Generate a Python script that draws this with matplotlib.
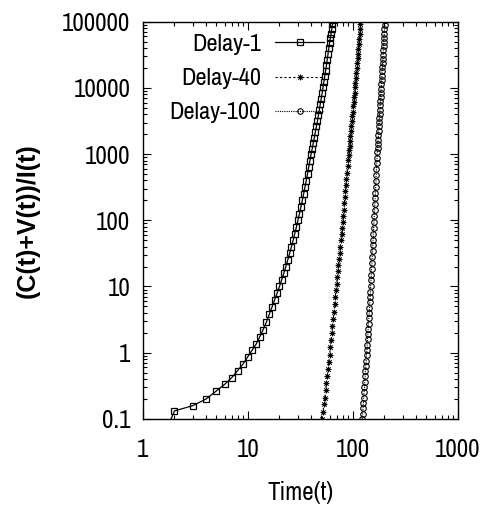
import numpy as np
import matplotlib
matplotlib.use("Agg")
from matplotlib import pyplot as plt
from matplotlib import font_manager as fm

t1 = list(range(1, 66))
logy1 = [-2.00,
         -0.88, -0.80, -0.70, -0.58, -0.48, -0.38, -0.27, -0.17, -0.06, 0.04,
         0.13, 0.24, 0.35, 0.46, 0.58, 0.69, 0.80, 0.90, 1.00, 1.10,
         1.20, 1.30, 1.40, 1.50, 1.60, 1.70, 1.80, 1.90, 2.00, 2.10,
         2.20, 2.30, 2.40, 2.50, 2.60, 2.70, 2.80, 2.90, 3.00, 3.08,
         3.17, 3.25, 3.34, 3.42, 3.50, 3.59, 3.67, 3.76, 3.84, 3.92,
         4.01, 4.09, 4.18, 4.26, 4.34, 4.43, 4.51, 4.60, 4.68, 4.75,
         4.82, 4.89, 4.96, 5.03]

# Delay-40 : t = 51..119
t40 = list(range(51, 120))
logy40 = [-1.00, -0.89, -0.78, -0.68, -0.57, -0.46, -0.35, -0.24, -0.14, -0.03,
          0.08, 0.19, 0.30, 0.40, 0.51, 0.62, 0.73, 0.84, 0.95, 1.04,
          1.14, 1.23, 1.32, 1.42, 1.51, 1.60, 1.70, 1.79, 1.88, 1.98,
          2.07, 2.16, 2.26, 2.35, 2.44, 2.54, 2.63, 2.72, 2.82, 2.91,
          2.98, 3.06, 3.13, 3.20, 3.28, 3.35, 3.42, 3.50, 3.57, 3.64,
          3.72, 3.79, 3.86, 3.93, 4.01, 4.08, 4.15, 4.23, 4.30, 4.37,
          4.45, 4.52, 4.59, 4.67, 4.74, 4.81, 4.89, 4.96, 5.03]

# Delay-100 : t = 123..202
t100 = list(range(123, 203))
logy100 = [-1.00, -0.92, -0.84, -0.76, -0.68, -0.60, -0.52, -0.44, -0.36, -0.28,
           -0.20, -0.12, -0.04, 0.04, 0.12, 0.20, 0.28, 0.36, 0.44, 0.52,
           0.60, 0.68, 0.76, 0.84, 0.92, 1.01, 1.10, 1.18, 1.27, 1.36,
           1.45, 1.54, 1.62, 1.71, 1.80, 1.89, 1.98, 2.06, 2.15, 2.24,
           2.33, 2.42, 2.50, 2.59, 2.68, 2.77, 2.86, 2.94, 3.03, 3.09,
           3.16, 3.22, 3.29, 3.35, 3.42, 3.48, 3.54, 3.61, 3.67, 3.74,
           3.80, 3.86, 3.93, 3.99, 4.06, 4.12, 4.18, 4.25, 4.31, 4.38,
           4.44, 4.50, 4.57, 4.63, 4.70, 4.76, 4.82, 4.89, 4.95, 5.02]

xticks = [1, 10, 100, 1000]
yticks = [0.1, 1, 10, 100, 1000, 10000, 100000]
yticklabels = ['0.1', '1', '10', '100', '1000', '10000', '100000']

# pick a narrow face if one is installed, otherwise Arial-like Liberation Sans
names = sorted({f.name for f in fm.fontManager.ttflist})
narrow = next((n for n in names if 'Narrow' in n or 'Condensed' in n),
              'Liberation Sans')
fs = 18 if narrow != 'Liberation Sans' else 15

fig = plt.figure(figsize=(4.86, 5.19), dpi=100)
ax = fig.add_axes([0.294, 0.193, 0.648, 0.765])

ax.plot(t1, 10 ** np.array(logy1), color='black', lw=0.9, ls='-',
        marker='s', mfc='none', mec='black', ms=4.5, mew=0.9, label='Delay-1')
ax.plot(t40, 10 ** np.array(logy40), color='black', lw=0.8, ls=(0, (2, 2)),
        marker=(8, 2, 0), ms=4, mew=0.6, mec='black', label='Delay-40')
ax.plot(t100, 10 ** np.array(logy100), color='black', lw=0.8, ls=(0, (1, 1)),
        marker='o', mfc='none', mec='black', ms=4, mew=0.8, label='Delay-100')

ax.set_xscale('log')
ax.set_yscale('log')
ax.set_xlim(1, 1000)
ax.set_ylim(0.1, 100000)
ax.set_xticks(xticks)
ax.set_xticklabels([str(v) for v in xticks])
ax.set_yticks(yticks)
ax.set_yticklabels(yticklabels)

ax.tick_params(which='both', direction='in', top=True, right=True, width=0.8)
ax.tick_params(which='major', length=6)
ax.tick_params(axis='y', which='major', pad=9)
ax.tick_params(axis='x', which='major', pad=14)
ax.tick_params(which='minor', length=3)
for lab in ax.get_xticklabels() + ax.get_yticklabels():
    lab.set_fontfamily(narrow)
    lab.set_fontsize(fs)
for s in ax.spines.values():
    s.set_linewidth(1.0)

ax.set_xlabel('Time(t)', fontfamily=narrow, fontsize=fs, labelpad=14)
ax.set_ylabel('(C(t)+V(t))/I(t)', fontfamily='Liberation Sans', fontweight='bold',
              fontsize=18, labelpad=16)

ax.legend(loc='upper right', bbox_to_anchor=(0.575, 0.97), frameon=False,
          markerfirst=False, prop={'family': narrow, 'size': 17.5},
          handlelength=2.0, handletextpad=0.6, labelspacing=0.55,
          borderpad=0, borderaxespad=0)

fig.savefig('out.png', dpi=100)
